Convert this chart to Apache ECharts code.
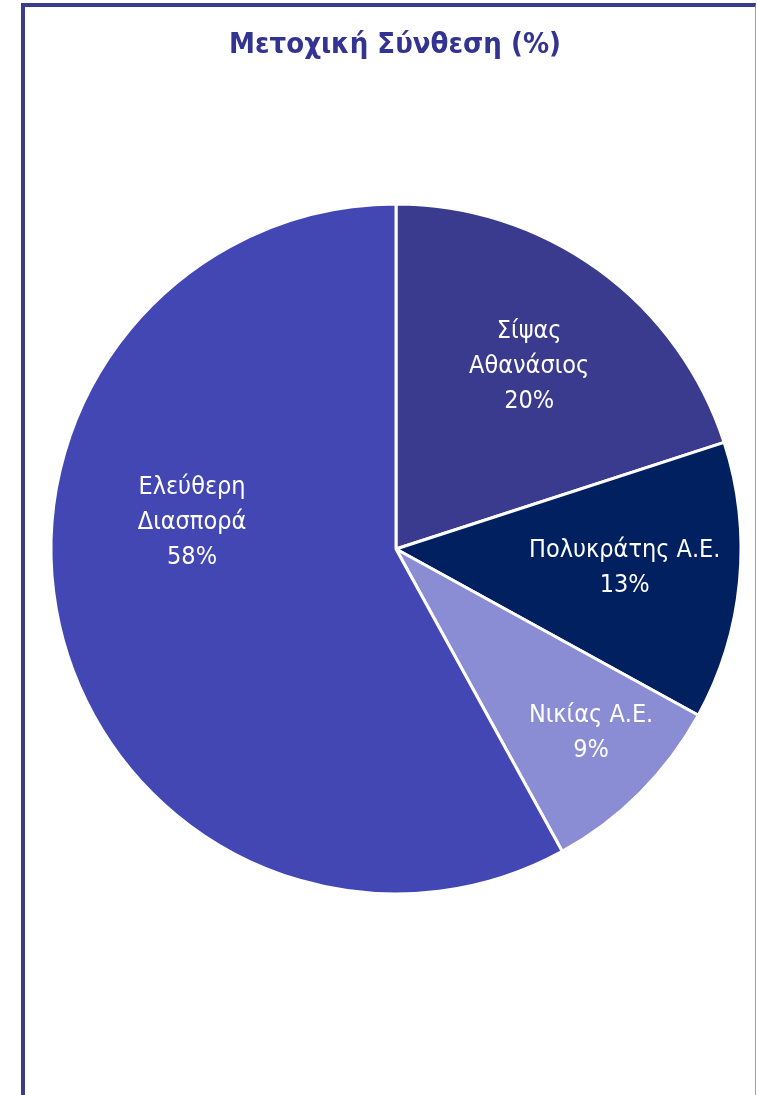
<!DOCTYPE html>
<html>
<head>
<meta charset="utf-8">
<script src="https://cdn.jsdelivr.net/npm/echarts@6/dist/echarts.min.js"></script>
<style>
html,body{margin:0;padding:0;background:#fff;}
#frame{position:absolute;left:21px;top:3px;width:735px;height:1092px;border-left:4px solid #3a3a8f;border-top:4px solid #3a3a8f;border-right:1px solid #9a9ad0;box-sizing:border-box;}
#chart{position:absolute;left:0;top:0;width:757px;height:1095px;}
</style>
</head>
<body>
<div id="frame"></div>
<div id="chart"></div>
<script>
const categories = ['Σίψας\nΑθανάσιος', 'Πολυκράτης Α.Ε.', 'Νικίας Α.Ε.', 'Ελεύθερη\nΔιασπορά'];
const values = [20, 13, 9, 58];
const colors = ['#3a3a8f', '#00205f', '#8a8cd4', '#4347b3'];
const labelOffsets = [[30, -41], [54, 2], [71, 60], [-34, -70]];

const chart = echarts.init(document.getElementById('chart'), null, {renderer: 'canvas'});
chart.setOption({
  animation: false,
  title: {
    text: 'Μετοχική Σύνθεση (%)',
    left: 390, top: 26, textAlign: 'center',
    textStyle: {fontFamily: 'DejaVu Sans Condensed', fontWeight: 'bold', fontSize: 29, color: '#333391'}
  },
  series: [{
    type: 'pie',
    center: [396, 549],
    radius: [0, 345],
    startAngle: 90,
    clockwise: true,
    avoidLabelOverlap: false,
    itemStyle: {borderColor: '#ffffff', borderWidth: 3},
    label: {
      show: true, position: 'inside',
      color: '#ffffff', fontFamily: 'DejaVu Sans Condensed', fontSize: 25, lineHeight: 35,
      formatter: p => p.name + '\n' + p.value + '%'
    },
    labelLine: {show: false},
    emphasis: {disabled: true},
    data: categories.map((c, i) => ({
      name: c, value: values[i],
      itemStyle: {color: colors[i]},
      label: {offset: labelOffsets[i]}
    }))
  }]
});
</script>
</body>
</html>
